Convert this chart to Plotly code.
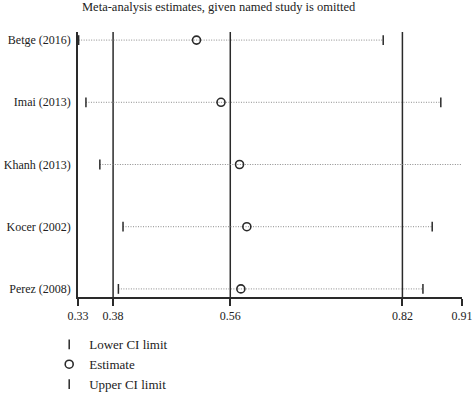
import plotly.graph_objects as go

studies = ["Betge (2016)", "Imai (2013)", "Khanh (2013)", "Kocer (2002)", "Perez (2008)"]
lower_ci = [0.331, 0.342, 0.363, 0.398, 0.391]
estimate = [0.509, 0.546, 0.574, 0.585, 0.576]
upper_ci = [0.791, 0.878, 0.911, 0.865, 0.851]

overall_lines = [0.383, 0.56, 0.82]
tick_vals = [0.33, 0.383, 0.56, 0.82, 0.91]
tick_text = ["0.33", "0.38", "0.56", "0.82", "0.91"]

FONT = "Liberation Serif"
DARK = "#2a2a2a"

ypos = list(range(len(studies)))

fig = go.Figure()

# dotted CI lines
lx, ly = [], []
for i, (lo, hi) in enumerate(zip(lower_ci, upper_ci)):
    lx += [lo, hi, None]
    ly += [i, i, None]
fig.add_trace(go.Scatter(x=lx, y=ly, mode="lines", showlegend=False, hoverinfo="skip",
                         line=dict(color="#8a8a8a", width=1, dash="1px,1.5px"), cliponaxis=False))

fig.add_trace(go.Scatter(x=lower_ci, y=ypos, mode="markers", name="Lower CI limit",
                         marker=dict(symbol="line-ns-open", size=7, color=DARK, line=dict(color=DARK, width=1.5)),
                         cliponaxis=False))
fig.add_trace(go.Scatter(x=estimate, y=ypos, mode="markers", name="Estimate",
                         marker=dict(symbol="circle-open", size=8, color=DARK, line=dict(color=DARK, width=1.6)),
                         cliponaxis=False))
fig.add_trace(go.Scatter(x=upper_ci, y=ypos, mode="markers", name="Upper CI limit",
                         marker=dict(symbol="line-ns-open", size=7, color=DARK, line=dict(color=DARK, width=1.5)),
                         cliponaxis=False))

for v in overall_lines:
    fig.add_vline(x=v, line=dict(color=DARK, width=1.5), layer="below")

fig.update_layout(
    width=474, height=395,
    margin=dict(l=78, r=12, t=32, b=98, autoexpand=False),
    plot_bgcolor="white", paper_bgcolor="white",
    font=dict(family=FONT, size=12, color="#222"),
    xaxis=dict(range=[0.33, 0.91], tickvals=tick_vals, ticktext=tick_text, automargin=False,
               showgrid=False, zeroline=False, showline=True, linecolor=DARK, linewidth=1.5,
               ticks="outside", ticklen=7, tickwidth=1.5, tickcolor=DARK, ticklabelstandoff=0,
               tickfont=dict(family=FONT, size=12)),
    yaxis=dict(range=[4.13, -0.13], tickvals=ypos, ticktext=studies, automargin=False,
               showgrid=False, zeroline=False, showline=True, linecolor=DARK, linewidth=1.5,
               ticks="", ticklabelstandoff=3, tickfont=dict(family=FONT, size=12)),
    legend=dict(x=-0.075, xanchor="left", y=-0.122, yanchor="top", orientation="v",
                font=dict(family=FONT, size=13), bgcolor="rgba(0,0,0,0)",
                itemwidth=30, tracegroupgap=0),
    annotations=[dict(text="Meta-analysis estimates, given named study is omitted",
                      xref="paper", yref="paper", x=0.367, y=1.094, xanchor="center", yanchor="middle",
                      showarrow=False, font=dict(family=FONT, size=12.5))],
)

fig.write_html("out.html", config={"displayModeBar": False},
               post_script="document.body.style.margin='0';")
